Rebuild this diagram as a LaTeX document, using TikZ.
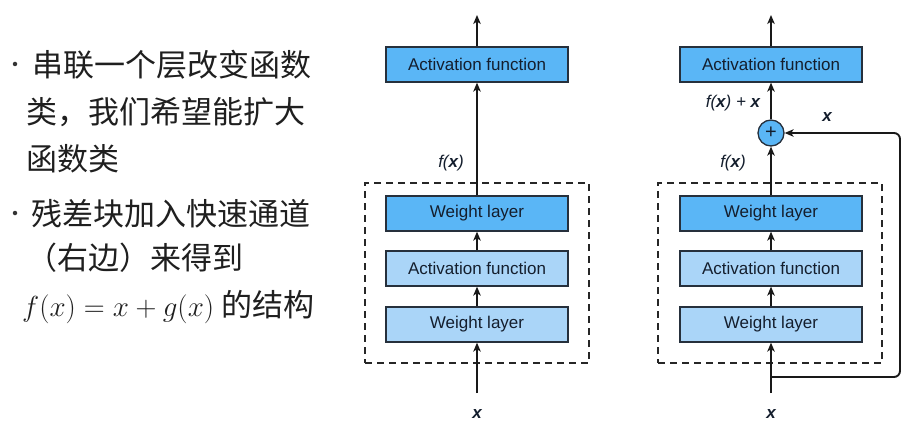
\RequirePackage{fix-cm}
\documentclass[tikz,border=0pt]{standalone}
\usepackage{fontspec}
\setmainfont{Liberation Sans}
\newfontfamily\cjk{Noto Sans CJK SC}
\usetikzlibrary{arrows.meta}
\definecolor{darkfill}{RGB}{90,182,246}
\definecolor{lightfill}{RGB}{170,213,248}
\definecolor{edge}{RGB}{38,48,60}
\definecolor{txt}{RGB}{20,30,45}
\begin{document}
\begin{tikzpicture}[x=1pt,y=-1pt,
  layer/.style={draw=edge, line width=1.3pt, minimum width=182pt, minimum height=35pt, inner sep=0pt, font=\fontsize{17}{20}\selectfont, text=txt},
  darklayer/.style={layer, fill=darkfill},
  lightlayer/.style={layer, fill=lightfill},
  conn/.style={line width=1.9pt, draw=black!90, -{Stealth[length=9pt,width=7.5pt,inset=2.5pt]}},
  lbl/.style={font=\fontsize{17}{20}\selectfont\itshape, inner sep=0pt, text=txt},
  dashbox/.style={draw=black!85, line width=1.6pt, dash pattern=on 7pt off 5pt, minimum width=224pt, minimum height=180pt, inner sep=0pt},
  cn/.style={font=\fontsize{31}{36}\selectfont\cjk, anchor=base west, inner sep=0pt, text=black!88},
  plusnode/.style={circle, draw=edge, line width=1.3pt, fill=darkfill, minimum size=26pt, inner sep=0pt, font=\fontsize{20}{20}\selectfont, text=txt},
  bul/.style={circle, fill=black!80, inner sep=0pt, minimum size=4.5pt},
]
\useasboundingbox (0,0) rectangle (910,425);

% left text
\node[bul] (b1) at (15,64) {};
\node[cn] (t1) at (32,77) {串联一个层改变函数};
\node[cn] (t2) at (26,124) {类，我们希望能扩大};
\node[cn] (t3) at (26,170) {函数类};
\node[bul] (b2) at (15,213) {};
\node[cn] (t4) at (31,225) {残差块加入快速通道};
\node[cn] (t5) at (26,269) {（右边）来得到};
\node[cn] (t6) at (22,316) {\fontsize{29}{34}\selectfont$f(x) = x + g(x)$\fontsize{31}{36}\selectfont\ 的结构};

% left diagram
\node[dashbox] (blockL) at (477,273) {};
\node[darklayer] (topL) at (477,64.5) {Activation function};
\node[darklayer] (w1L) at (477,213.5) {Weight layer};
\node[lightlayer] (aL) at (477,268.5) {Activation function};
\node[lightlayer] (w2L) at (477,324.5) {Weight layer};
\coordinate (inL) at (477,393);
\coordinate (outL) at (477,15);
\node[lbl] (xL) at (477,414) {\textbf{x}};
\node[lbl] (fL) at (451,163) {f(\textbf{x})};
\draw[conn] (inL) -- (w2L);
\draw[conn] (w2L) -- (aL);
\draw[conn] (aL) -- (w1L);
\draw[conn] (w1L) -- (topL);
\draw[conn] (topL) -- (outL);

% right diagram
\node[dashbox] (blockR) at (770,273) {};
\node[darklayer] (topR) at (771,64.5) {Activation function};
\node[darklayer] (w1R) at (771,213.5) {Weight layer};
\node[lightlayer] (aR) at (771,268.5) {Activation function};
\node[lightlayer] (w2R) at (771,324.5) {Weight layer};
\node[plusnode] (plus) at (771,133) {+};
\coordinate (inR) at (771,393);
\coordinate (split) at (771,377);
\coordinate (corner) at (900,133);
\coordinate (outR) at (771,15);
\node[lbl] (xR) at (771,414) {\textbf{x}};
\node[lbl] (fR) at (733,163) {f(\textbf{x})};
\node[lbl] (fxR) at (733,103) {f(\textbf{x}) + \textbf{x}};
\node[lbl] (skipx) at (827,117) {\textbf{x}};
\draw[conn] (inR) -- (w2R);
\draw[conn] (w2R) -- (aR);
\draw[conn] (aR) -- (w1R);
\draw[conn] (w1R) -- (plus);
\draw[conn] (plus) -- (topR);
\draw[conn] (topR) -- (outR);
\draw[conn, rounded corners=6pt] (split) -| (corner) -- (plus);
\end{tikzpicture}
\end{document}
